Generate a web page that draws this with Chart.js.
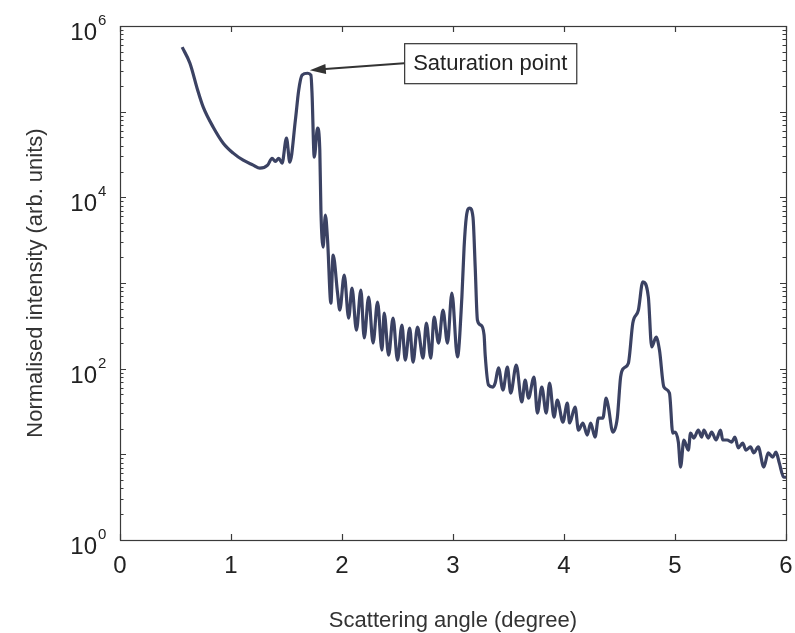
<!DOCTYPE html>
<html>
<head>
<meta charset="utf-8">
<script src="https://cdn.jsdelivr.net/npm/chart.js@4.4.1/dist/chart.umd.min.js"></script>
<style>
  html, body { margin: 0; padding: 0; background: #fff; }
  #wrap { width: 795px; height: 633px; position: relative; }
</style>
</head>
<body>
<div id="wrap"><canvas id="xrd"></canvas></div>
<script>
// scattering angle (degree)
const angle = [
  0.56, 0.63, 0.70, 0.75, 0.84, 0.93, 1.02, 1.11, 1.20, 1.26,
  1.33, 1.37, 1.40, 1.43, 1.46, 1.50, 1.53, 1.58, 1.61, 1.64,
  1.69, 1.72, 1.73, 1.75, 1.78, 1.80, 1.81, 1.83, 1.85, 1.87,
  1.90, 1.92, 1.96, 1.98, 2.02, 2.06, 2.09, 2.13, 2.17, 2.20,
  2.24, 2.28, 2.32, 2.36, 2.38, 2.42, 2.46, 2.50, 2.54, 2.57,
  2.61, 2.64, 2.68, 2.73, 2.76, 2.80, 2.83, 2.87, 2.91, 2.95,
  2.99, 3.04, 3.08, 3.10, 3.12, 3.15, 3.18, 3.20, 3.22, 3.25,
  3.28, 3.29, 3.32, 3.36, 3.38, 3.41, 3.45, 3.49, 3.52, 3.57,
  3.62, 3.65, 3.68, 3.73, 3.76, 3.80, 3.84, 3.87, 3.91, 3.94,
  3.99, 4.03, 4.05, 4.10, 4.13, 4.17, 4.21, 4.24, 4.28, 4.31,
  4.35, 4.38, 4.40, 4.44, 4.48, 4.51, 4.54, 4.58, 4.62, 4.67,
  4.71, 4.76, 4.79, 4.83, 4.86, 4.90, 4.95, 4.98, 5.00, 5.03,
  5.05, 5.08, 5.12, 5.14, 5.17, 5.21, 5.24, 5.26, 5.30, 5.33,
  5.37, 5.41, 5.43, 5.47, 5.51, 5.54, 5.57, 5.61, 5.64, 5.68,
  5.71, 5.75, 5.80, 5.84, 5.88, 5.91, 5.94, 5.98, 6.00
];
// normalised intensity (arb. units)
const intensity = [
  566000, 368000, 178000, 113000, 65900, 42900, 32800, 27100, 23800, 21900,
  23800, 28600, 26200, 28600, 25100, 49100, 25700, 79600, 178000, 267000,
  281000, 267000, 164000, 29400, 64200, 35600, 7090, 2620, 6200, 3170,
  582, 2120, 763, 483, 1240, 389, 872, 282, 826, 228,
  684, 199, 599, 165, 446, 144, 389, 126, 323, 126,
  298, 119, 306, 133, 341, 133, 400, 199, 483, 199,
  763, 137, 684, 2620, 5870, 7480, 5870, 1530, 369, 323,
  247, 144, 64.4, 61.0, 67.9, 102, 56.3, 104, 51.9, 110,
  40.8, 73.6, 45.4, 79.8, 30.3, 61.0, 30.3, 67.9, 27.2, 43.0,
  23.8, 39.7, 23.2, 35.6, 19.2, 23.2, 16.8, 23.2, 15.9, 26.5,
  26.5, 45.4, 35.6, 18.2, 26.5, 79.8, 102, 116, 341, 483,
  1030, 684, 179, 234, 165, 61.0, 51.9, 17.7, 18.2, 13.9,
  7.1, 14.7, 11.2, 17.7, 15.5, 19.2, 15.9, 19.2, 15.5, 18.2,
  14.7, 19.2, 14.7, 14.7, 13.9, 15.9, 11.9, 13.5, 11.2, 12.2,
  10.4, 12.2, 7.1, 10.4, 9.3, 10.6, 7.9, 5.4, 5.4
];

const xTicks = [0, 1, 2, 3, 4, 5, 6];
const yLabelExponents = [0, 2, 4, 6];
const yDecades = [0, 1, 2, 3, 4, 5, 6];

const xTitle = 'Scattering angle (degree)';
const yTitle = 'Normalised intensity (arb. units)';

// annotation: arrow tip on the saturated peak, label box to the right
const noteText = 'Saturation point';
const noteTip = { x: 1.71, y: 3.05e5 };
const noteBox = { x: 2.56, y: 3.68e5 };

const points = angle.map((a, i) => ({ x: a, y: intensity[i] }));

const FONT = '"Liberation Sans", Arial, sans-serif';
const TEXT = '#222';
const AXIS = '#3a3a3a';

// frame, inward ticks, log labels, titles, annotation
const decorations = {
  id: 'decorations',
  afterDraw(chart) {
    const ctx = chart.ctx;
    const a = chart.chartArea;
    const xs = chart.scales.x;
    const ys = chart.scales.y;
    ctx.save();

    // frame
    ctx.strokeStyle = AXIS;
    ctx.lineWidth = 1.2;
    ctx.strokeRect(a.left + 0.5, a.top + 0.5, a.right - a.left, a.bottom - a.top);

    // x ticks (bottom and top, pointing in)
    ctx.beginPath();
    xTicks.forEach(v => {
      const px = Math.round(xs.getPixelForValue(v)) + 0.5;
      ctx.moveTo(px, a.bottom); ctx.lineTo(px, a.bottom - 6);
      ctx.moveTo(px, a.top); ctx.lineTo(px, a.top + 6);
    });
    // y ticks: majors and minors on both sides
    yDecades.forEach(k => {
      for (let m = 1; m <= 9; m++) {
        const v = m * Math.pow(10, k);
        if (v > 1e6) break;
        const py = Math.round(ys.getPixelForValue(v)) + 0.5;
        const len = m === 1 ? 6 : 3.5;
        ctx.moveTo(a.left, py); ctx.lineTo(a.left + len, py);
        ctx.moveTo(a.right, py); ctx.lineTo(a.right - len, py);
      }
    });
    ctx.stroke();

    // y tick labels as 10 with raised exponent
    ctx.fillStyle = TEXT;
    yLabelExponents.forEach(e => {
      const py = ys.getPixelForValue(Math.pow(10, e));
      ctx.font = '24px ' + FONT;
      ctx.textAlign = 'right';
      ctx.textBaseline = 'alphabetic';
      ctx.fillText('10', 97, py + 14);
      ctx.font = '15px ' + FONT;
      ctx.textAlign = 'left';
      ctx.fillText(String(e), 98, py - 1);
    });

    // axis titles
    ctx.font = '22px ' + FONT;
    ctx.fillStyle = '#333';
    ctx.textAlign = 'center';
    ctx.textBaseline = 'middle';
    ctx.fillText(xTitle, (a.left + a.right) / 2, 621);
    ctx.save();
    ctx.translate(36, (a.top + a.bottom) / 2);
    ctx.rotate(-Math.PI / 2);
    ctx.fillText(yTitle, 0, 0);
    ctx.restore();

    // annotation box
    const bx = xs.getPixelForValue(noteBox.x);
    const by = ys.getPixelForValue(noteBox.y);
    ctx.font = '22px ' + FONT;
    const tw = ctx.measureText(noteText).width;
    const bw = tw + 18, bh = 40;
    ctx.fillStyle = '#fff';
    ctx.fillRect(bx, by - bh / 2, bw, bh);
    ctx.strokeStyle = '#333';
    ctx.lineWidth = 1.2;
    ctx.strokeRect(bx + 0.5, by - bh / 2 + 0.5, bw, bh);
    ctx.fillStyle = TEXT;
    ctx.textAlign = 'left';
    ctx.fillText(noteText, bx + 9, by + 1);

    // arrow
    const tx = xs.getPixelForValue(noteTip.x);
    const ty = ys.getPixelForValue(noteTip.y);
    const ang = Math.atan2(ty - by, tx - bx);
    ctx.strokeStyle = '#333';
    ctx.lineWidth = 2;
    ctx.beginPath();
    ctx.moveTo(bx, by);
    ctx.lineTo(tx - 12 * Math.cos(ang), ty - 12 * Math.sin(ang));
    ctx.stroke();
    ctx.fillStyle = '#333';
    ctx.beginPath();
    ctx.moveTo(tx, ty);
    ctx.lineTo(tx - 16 * Math.cos(ang) + 5 * Math.sin(ang), ty - 16 * Math.sin(ang) - 5 * Math.cos(ang));
    ctx.lineTo(tx - 16 * Math.cos(ang) - 5 * Math.sin(ang), ty - 16 * Math.sin(ang) + 5 * Math.cos(ang));
    ctx.closePath();
    ctx.fill();

    ctx.restore();
  }
};

new Chart(document.getElementById('xrd'), {
  type: 'line',
  data: {
    datasets: [{
      data: points,
      borderColor: '#3b4263',
      borderWidth: 3.2,
      pointRadius: 0,
      fill: false,
      cubicInterpolationMode: 'monotone'
    }]
  },
  options: {
    responsive: true,
    maintainAspectRatio: false,
    animation: false,
    layout: { padding: { top: 26, right: 0, left: 0, bottom: 0 } },
    plugins: { legend: { display: false }, tooltip: { enabled: false } },
    scales: {
      x: {
        type: 'linear',
        min: 0,
        max: 6,
        afterBuildTicks: s => { s.ticks = xTicks.map(v => ({ value: v })); },
        afterFit: s => { s.height = 93; s.paddingRight = 9; s.paddingLeft = 0; },
        grid: { display: false, drawTicks: false },
        border: { display: false },
        ticks: { color: TEXT, font: { family: FONT, size: 24 }, padding: 12, maxRotation: 0 }
      },
      y: {
        type: 'logarithmic',
        min: 1,
        max: 1e6,
        afterFit: s => { s.width = 120; },
        grid: { display: false, drawTicks: false },
        border: { display: false },
        ticks: { display: false }
      }
    }
  },
  plugins: [decorations]
});
</script>
</body>
</html>
